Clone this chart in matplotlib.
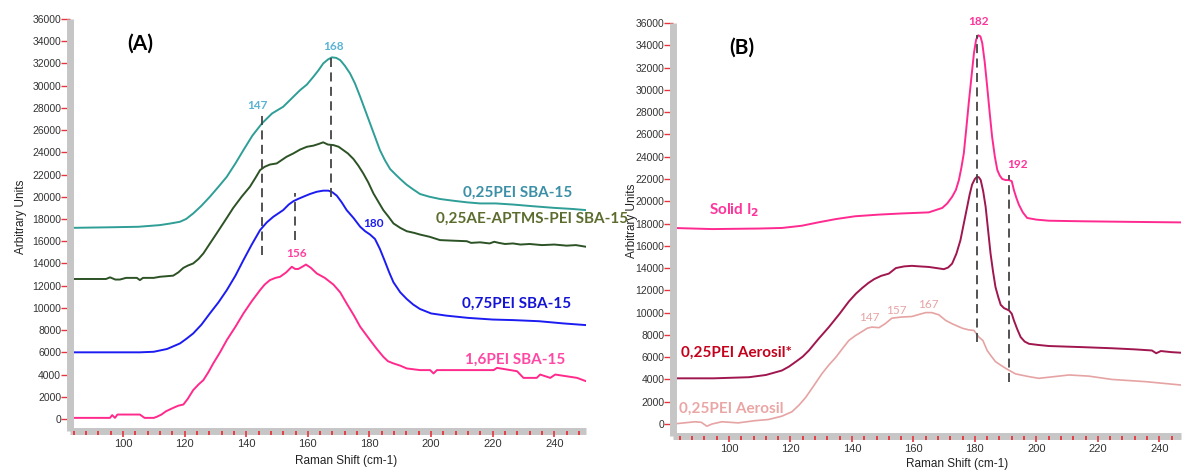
import matplotlib
matplotlib.use("Agg")
import matplotlib.pyplot as plt
from matplotlib.ticker import MultipleLocator

# ---- panel A data (Raman shift in cm-1, arbitrary units) ----
teal_x = [82.8, 95, 105, 112, 115.5, 118.5, 120.5, 122.8, 125.5, 128.2, 131, 133.7, 136.5,
          139.1, 142, 145.1, 148.4, 152, 155.3, 157.5, 159.7, 161.8, 163.5, 165, 166.5, 167.8,
          169.2, 170.5, 172, 173.7, 175.3, 177, 178.6, 180.2, 181.8, 183.4, 185, 186.7, 188.5,
          190, 192, 194, 196.4, 199.5, 202.9, 207, 211.6, 215.9, 221, 226.6, 233, 240, 246, 250.3]
teal_y = [17200, 17250, 17300, 17450, 17600, 17750, 18000, 18500, 19200, 20000, 20900, 21800,
          23000, 24200, 25500, 26600, 27500, 28100, 29000, 29600, 30100, 30800, 31400, 32000,
          32350, 32550, 32500, 32300, 31800, 31100, 30200, 29000, 27800, 26600, 25400, 24200,
          23300, 22500, 22000, 21600, 21100, 20700, 20250, 20000, 19800, 19650, 19500, 19400,
          19400, 19300, 19150, 19000, 18900, 18800]

green_x = [82.8, 90, 94.5, 95.8, 97.5, 99, 101, 104.5, 105.5, 106.5, 110, 112, 116.3, 118,
           119.6, 121, 122.8, 124.5, 126.1, 128, 130.4, 133, 135.8, 138.5, 141.2, 143, 144.5,
           146, 147.7, 149.9, 151.5, 153.1, 155.3, 157.5, 159.7, 161.8, 163.5, 165, 166.5,
           168.3, 170, 171.5, 173, 174.8, 176.4, 178, 179.6, 181.3, 183, 184.5, 186.2, 187.8,
           190, 192.1, 194.5, 196.4, 199.5, 202.9, 207, 211.6, 213, 215.9, 219, 220.5, 222,
           224, 226.6, 229, 232, 236, 240, 244, 247, 250.3]
green_y = [12600, 12600, 12600, 12750, 12550, 12550, 12700, 12700, 12500, 12700, 12700, 12800,
           12900, 13200, 13600, 13800, 14000, 14400, 14900, 15700, 16700, 17800, 19000, 20000,
           20900, 21700, 22400, 22700, 22900, 23000, 23300, 23600, 23900, 24250, 24500, 24600,
           24750, 24900, 24700, 24650, 24500, 24200, 23900, 23400, 22800, 22100, 21300, 20300,
           19500, 18800, 18200, 17600, 17200, 16900, 16750, 16600, 16400, 16100, 16050, 16000,
           15850, 15900, 15800, 15950, 15850, 15750, 15800, 15700, 15750, 15650, 15700, 15600,
           15650, 15500]

blue_x = [82.8, 95, 105.5, 110, 114.3, 118.5, 120.5, 122.8, 125.5, 128.2, 131, 133.7, 136.5,
          139.1, 141.8, 144.5, 146.7, 148.8, 152, 153.8, 155.3, 156.8, 158.5, 160.7, 162.9,
          165, 166.7, 168, 169.4, 171, 172.6, 174.8, 177, 178.6, 180.2, 181.8, 183.4, 185,
          186.4, 187.8, 190, 192.1, 194.2, 196.4, 200, 205, 212, 220, 226.6, 235, 243, 250.3]
blue_y = [6000, 6000, 6000, 6050, 6300, 6800, 7200, 7700, 8500, 9500, 10500, 11600, 12900,
          14300, 15700, 17000, 17700, 18200, 18800, 19300, 19600, 19800, 20000, 20250, 20450,
          20550, 20550, 20400, 20100, 19500, 18800, 18100, 17300, 16900, 16600, 16200, 15300,
          14200, 13200, 12300, 11400, 10800, 10300, 9900, 9500, 9300, 9100, 8950, 8900, 8800,
          8600, 8450]

pink_x = [82.8, 95.8, 96.5, 97.4, 98.2, 105.5, 107, 110, 111, 112.5, 114, 116.3, 118, 119.6,
          121, 122.8, 124.5, 126.1, 127.7, 129.3, 131.5, 133.7, 136.5, 139.1, 141.8, 144.5,
          146, 147.7, 149.5, 151, 153, 154.8, 155.9, 156.9, 158.2, 159.4, 161, 162.9, 165.5,
          168.3, 170.5, 172.6, 175, 177, 178.6, 180.2, 182.4, 184.5, 186, 187.8, 190, 192.1,
          196.4, 199.7, 200.8, 201.9, 210, 220.3, 221.4, 227.9, 230, 234.3, 235.4, 238.7,
          240.3, 247.4, 250.3]
pink_y = [100, 100, 350, 100, 400, 400, 100, 100, 200, 400, 700, 1000, 1200, 1300, 1800, 2600,
          3100, 3500, 4200, 5000, 6000, 7100, 8300, 9500, 10600, 11600, 12100, 12500, 12700,
          12800, 13200, 13700, 13500, 13500, 13700, 13900, 13600, 13100, 12700, 12100, 11400,
          10400, 9300, 8300, 7700, 7100, 6300, 5600, 5200, 5000, 4800, 4550, 4400, 4400, 4100,
          4400, 4400, 4400, 4600, 4300, 3700, 3700, 4000, 3700, 4000, 3700, 3400]

# ---- panel B data ----
iodine_x = [81.8, 94.5, 110, 117.2, 123.7, 129, 134.8, 141, 148.8, 156, 165, 169.4, 171, 172.6,
            173.8, 174.8, 175.6, 176.4, 177.2, 178, 178.9, 179.7, 180.4, 181.1, 181.8, 182.4,
            183.2, 184, 184.8, 185.6, 186.5, 187.3, 188.1, 188.9, 190, 191.1, 192, 192.7, 193.5,
            194.3, 195.6, 197, 200, 204.1, 215, 230, 247]
iodine_y = [17600, 17500, 17550, 17600, 17800, 18100, 18400, 18650, 18800, 18900, 19000, 19400,
            19800, 20400, 21000, 21900, 23000, 24300, 26500, 28800, 31200, 33300, 34500, 34900,
            34800, 34200, 32500, 30300, 28000, 25800, 24000, 22800, 22300, 22000, 21900, 21900,
            21800, 21000, 20300, 19700, 19000, 18500, 18350, 18250, 18200, 18150, 18100]

aer_star_x = [81.8, 95, 106.5, 112, 117.2, 119.5, 121.8, 124, 126, 129, 132.5, 136, 139, 141.3,
              143.3, 145.3, 147.2, 149.5, 152, 154.3, 157, 159.5, 162, 165, 167.5, 169.9, 171.3,
              172.6, 174, 175.3, 176.4, 177.5, 178.3, 179.1, 180, 180.7, 181.3, 181.9, 182.7,
              183.5, 184.3, 185.1, 185.9, 186.7, 187.6, 188.4, 189.5, 191.1, 192, 192.7, 193.8,
              194.9, 196.2, 197.6, 200.5, 204.1, 215, 224.6, 232, 237.6, 239, 240.5, 244, 247]
aer_star_y = [4100, 4100, 4200, 4400, 4800, 5150, 5600, 6050, 6600, 7600, 8700, 9900, 11000,
              11700, 12200, 12650, 13000, 13300, 13500, 14000, 14150, 14200, 14150, 14100, 14000,
              13900, 14050, 14400, 15300, 16500, 18000, 19500, 20600, 21500, 22000, 22200, 22150,
              21900, 20900, 19500, 17400, 15300, 13700, 12300, 11400, 10700, 10400, 10200, 9900,
              9300, 8500, 7800, 7400, 7200, 7100, 7000, 6900, 6800, 6700, 6600, 6350, 6550, 6450,
              6400]

aer_x = [81.8, 89, 91, 92.8, 94.5, 97.7, 103, 108.5, 112.8, 117.2, 120.5, 122.8, 125, 127.5,
         130.2, 132.5, 134.8, 137, 139, 141.2, 143.3, 145, 146.5, 148.8, 150.8, 153, 156, 159.5,
         162, 164, 166, 168.3, 170.5, 172.6, 175.9, 178, 179.7, 181.3, 182.6, 184, 185.3, 186.7,
         188.3, 190, 193.2, 197.6, 200.8, 204.1, 210.6, 217, 224.6, 235.6, 247]
aer_y = [0, 200, 150, -200, 0, 200, 100, 300, 400, 700, 1100, 1700, 2400, 3400, 4500, 5300, 6000,
         6800, 7500, 7950, 8300, 8600, 8700, 8650, 9000, 9500, 9600, 9650, 9850, 10000, 10000,
         9800, 9300, 9000, 8600, 8450, 8400, 7800, 7500, 6600, 6100, 5600, 5300, 5000, 4500,
         4250, 4100, 4200, 4400, 4300, 4000, 3800, 3500]

x_ticks = [100, 120, 140, 160, 180, 200, 220, 240]
y_ticks = list(range(0, 36001, 2000))

BAR = "#c6c6c6"
TICK_RED = "#e8343c"
LBL = ["Lato", "DejaVu Sans"]


def style_axes(ax, xlim, ylim):
    ax.set_xlim(*xlim)
    ax.set_ylim(*ylim)
    ax.spines["top"].set_visible(False)
    ax.spines["right"].set_visible(False)
    for s in ("left", "bottom"):
        ax.spines[s].set_color(BAR)
        ax.spines[s].set_linewidth(5)
        ax.spines[s].set_capstyle("butt")
    ax.set_xticks(x_ticks)
    ax.xaxis.set_minor_locator(MultipleLocator(4))
    ax.set_yticks(y_ticks)
    # x ticks sit on top of the grey bar, y ticks stick out to the left
    ax.xaxis.set_zorder(3)
    ax.tick_params(axis="y", which="major", color=TICK_RED, length=6.3, width=1,
                   labelsize=7.5, labelcolor="#333333", pad=0)
    ax.tick_params(axis="x", which="major", color=TICK_RED, length=4.5, width=1.2,
                   labelsize=8, labelcolor="#333333", pad=1.5)
    ax.tick_params(axis="x", which="minor", color=TICK_RED, length=2.6, width=1.3)
    for t in ax.get_xticklabels() + ax.get_yticklabels():
        t.set_fontfamily("Liberation Sans")
    ax.set_xlabel("Raman Shift (cm-1)", fontsize=8.5, family="Liberation Sans", color="#222222")
    ax.set_ylabel("Arbitrary Units", fontsize=8.5, family="Liberation Sans", color="#222222")


fig = plt.figure(figsize=(11.82, 4.70), dpi=100)
axA = fig.add_axes([0.0592, 0.083, 0.4366, 0.8766])
axB = fig.add_axes([0.5694, 0.0723, 0.4296, 0.8787])

# ---------------- panel A ----------------
style_axes(axA, (82.8, 250.3), (-1080, 36000))
axA.plot(teal_x, teal_y, color="#2e9e96", lw=1.4)
axA.plot(green_x, green_y, color="#2c5225", lw=1.4)
axA.plot(blue_x, blue_y, color="#1c1cf2", lw=1.4)
axA.plot(pink_x, pink_y, color="#ff2a8c", lw=1.4)

dash = dict(color="#444444", lw=1.3, ls=(0, (5, 3)))
axA.plot([145, 145], [14800, 27400], **dash)
axA.plot([167.5, 167.5], [20000, 32500], **dash)
axA.plot([155.8, 155.8], [16100, 20300], **dash)

axA.text(105.5, 33800, "(A)", fontsize=15, fontweight="bold", family=LBL, ha="center", va="center")
axA.text(168.2, 33500, "168", fontsize=8.5, fontweight="bold", color="#5ab2d3", family=LBL, ha="center", va="center")
axA.text(143.5, 28200, "147", fontsize=8.5, fontweight="bold", color="#5ab2d3", family=LBL, ha="center", va="center")
axA.text(156.4, 14900, "156", fontsize=8.5, fontweight="bold", color="#ff3f9d", family=LBL, ha="center", va="center")
axA.text(181.2, 17600, "180", fontsize=8.5, fontweight="bold", color="#1c1cf2", family=LBL, ha="center", va="center")
axA.text(228, 20400, "0,25PEI SBA-15", fontsize=11, fontweight="bold", color="#3b8fa6", family=LBL, ha="center", va="center")
axA.text(232.8, 18000, "0,25AE-APTMS-PEI SBA-15", fontsize=11, fontweight="bold", color="#5b6c2e", family=LBL, ha="center", va="center")
axA.text(227.9, 10400, "0,75PEI SBA-15", fontsize=11, fontweight="bold", color="#1414d6", family=LBL, ha="center", va="center")
axA.text(227.3, 5300, "1,6PEI SBA-15", fontsize=11, fontweight="bold", color="#ff47a3", family=LBL, ha="center", va="center")
axA.yaxis.set_label_coords(-0.084, 0.52)
axA.xaxis.set_label_coords(0.535, -0.058)

# ---------------- panel B ----------------
style_axes(axB, (81.8, 247), (-1080, 36000))
axB.plot(iodine_x, iodine_y, color="#ff2a90", lw=1.4)
axB.plot(aer_star_x, aer_star_y, color="#a0164f", lw=1.4)
axB.plot(aer_x, aer_y, color="#e6a3a3", lw=1.2)

axB.plot([180.7, 180.7], [7400, 34900], **dash)
axB.plot([191.1, 191.1], [3800, 22400], **dash)

axB.text(104.2, 33800, "(B)", fontsize=15, fontweight="bold", family=LBL, ha="center", va="center")
axB.text(181.1, 36100, "182", fontsize=8.5, fontweight="bold", color="#ff3399", family=LBL, ha="center", va="center")
axB.text(193.7, 23300, "192", fontsize=8.5, fontweight="bold", color="#ff3399", family=LBL, ha="center", va="center")
axB.text(101.6, 19200, r"Solid I$_{\mathbf{2}}$", fontsize=11, fontweight="bold", color="#ff3399", family=LBL, ha="center", va="center")
axB.text(102.3, 6400, "0,25PEI Aerosil*", fontsize=11, fontweight="bold", color="#c4001c", family=LBL, ha="center", va="center")
axB.text(100.7, 1400, "0,25PEI Aerosil", fontsize=11, fontweight="bold", color="#eaa5a5", family=LBL, ha="center", va="center")
axB.text(145.5, 9600, "147", fontsize=8.5, color="#e6a3a3", family=LBL, ha="center", va="center")
axB.text(154.6, 10200, "157", fontsize=8.5, color="#e6a3a3", family=LBL, ha="center", va="center")
axB.text(165, 10700, "167", fontsize=8.5, color="#e6a3a3", family=LBL, ha="center", va="center")
axB.yaxis.set_label_coords(-0.069, 0.52)
axB.xaxis.set_label_coords(0.56, -0.053)

fig.savefig("out.png", dpi=100)
